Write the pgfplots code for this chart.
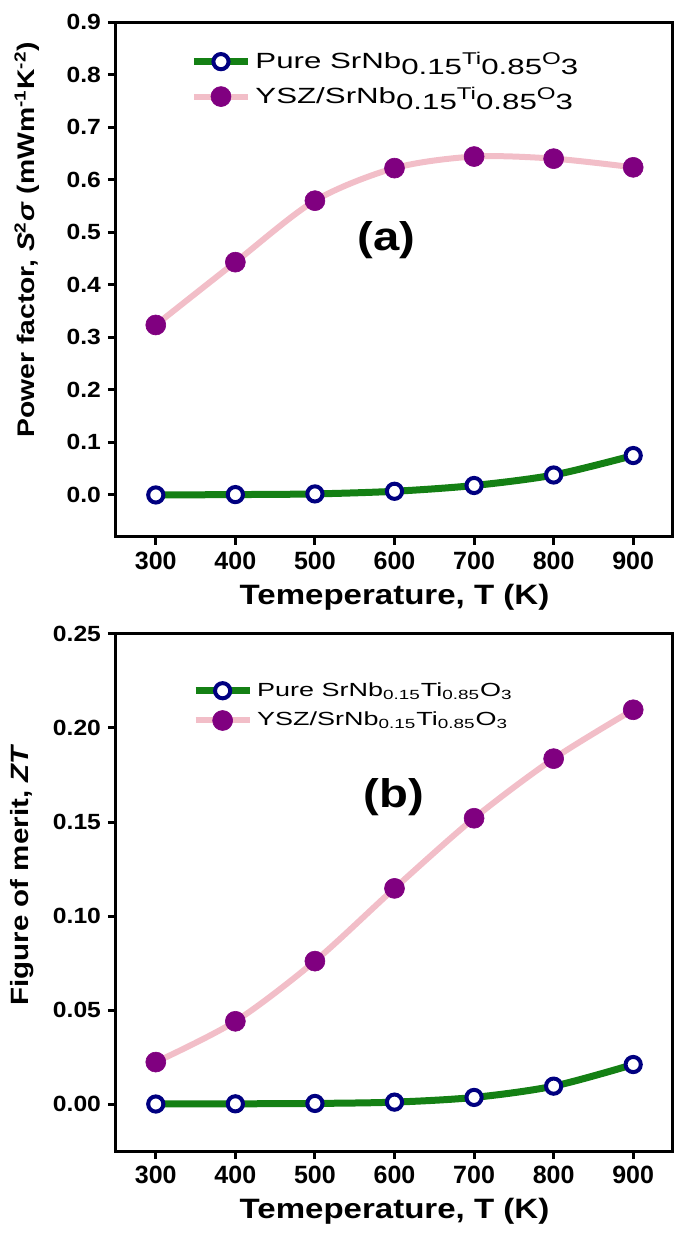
\documentclass[border=0pt]{standalone}
\usepackage{pgfplots}
\pgfplotsset{compat=1.18}
\usepackage{fontspec}
\setmainfont{Liberation Sans}
\newfontfamily\labfont[FakeStretch=1.18]{Liberation Sans}
\newfontfamily\ytfont[FakeStretch=1.12]{Liberation Sans}
\newfontfamily\legAfont[FakeStretch=1.42]{Liberation Sans}
\newfontfamily\legBfont[FakeStretch=1.42]{Liberation Sans}
\definecolor{cgreen}{RGB}{20,128,20}
\definecolor{cpink}{RGB}{242,190,200}
\definecolor{cpurple}{RGB}{128,0,128}
\definecolor{cnavy}{RGB}{0,0,128}
\newcommand{\oddA}{SrNb\raisebox{-0.55ex}{0.15}\raisebox{0.3ex}{\fontsize{8.5}{10}\selectfont Ti}\raisebox{-0.55ex}{0.85}\raisebox{0.3ex}{\fontsize{8.5}{10}\selectfont O}\raisebox{-0.55ex}{3}}
\newcommand{\formB}{SrNb\textsubscript{0.15}Ti\textsubscript{0.85}O\textsubscript{3}}
\pgfplotsset{
 mystyle/.style={
  scale only axis, width=278.5pt,
  xmin=250, xmax=950, xtick={300,400,...,900},
  axis line style={line width=1.5pt},
  every tick/.style={line width=1.5pt, black},
  major tick length=4pt,
  tick align=outside, xtick pos=left, ytick pos=left,
  /pgf/number format/assume math mode=true,
  xticklabel style={font=\bfseries\fontsize{12.5}{14}\selectfont},
  yticklabel style={font=\ytfont\bfseries\fontsize{11}{13}\selectfont},
  xlabel style={font=\labfont\bfseries\fontsize{14}{16}\selectfont, at={(axis description cs:0.5,0)}, anchor=center, yshift=-30pt},
  ylabel style={font=\labfont\bfseries\fontsize{12}{14}\selectfont, anchor=center},
  xlabel={Temeperature, T (K)},
  legend style={draw=none, fill=none, anchor=north west, inner sep=0pt, cells={anchor=west}},
  legend image code/.code={\draw[mark repeat=2,mark phase=2,#1] plot coordinates {(0pt,0pt) (13.5pt,0pt) (27pt,0pt)};},
 },
 purestyle/.style={color=cgreen, line width=3.5pt, smooth, mark=*, mark size=3.8pt, mark options={fill=white, draw=cnavy, line width=2pt, solid}},
 yszstyle/.style={color=cpink, line width=3pt, smooth, mark=*, mark size=5pt, mark options={fill=cpurple, draw=cpurple, line width=0.3pt, solid}},
}
\begin{document}
\begin{tikzpicture}
\useasboundingbox (-58pt,-352pt) rectangle (284.5pt,268.5pt);
\begin{axis}[mystyle, height=257.5pt,
  ymin=-0.08, ymax=0.9, ytick={0,0.1,...,0.9},
  yticklabel style={/pgf/number format/fixed, /pgf/number format/fixed zerofill, /pgf/number format/precision=1},
  ylabel={Power factor, \textit{S}\textsuperscript{2}\textit{σ} (mWm\textsuperscript{-1}K\textsuperscript{-2})},
  ylabel style={at={(axis description cs:-0.16,0.577)}},
  legend style={at={(rel axis cs:0.133,0.95)}, font=\legAfont\fontsize{11}{13}\selectfont, row sep=4pt},
]
\addplot[purestyle] coordinates {(300,0.0) (400,0.0007) (500,0.002) (600,0.007) (700,0.018) (800,0.038) (900,0.075)};
\addlegendentry{Pure \oddA}
\addplot[yszstyle] coordinates {(300,0.3235) (400,0.443) (500,0.560) (600,0.622) (700,0.644) (800,0.640) (900,0.6235)};
\addlegendentry{YSZ/\oddA}
\node[font=\labfont\bfseries\fontsize{20}{22}\selectfont] at (axis cs:590,0.485) {(a)};
\end{axis}
\begin{axis}[mystyle, height=258.5pt, at={(0pt,-307pt)}, anchor=south west,
  ymin=-0.025, ymax=0.25, ytick={0,0.05,...,0.25},
  yticklabel style={/pgf/number format/fixed, /pgf/number format/fixed zerofill, /pgf/number format/precision=2},
  ylabel={Figure of merit, \textit{ZT}},
  ylabel style={at={(axis description cs:-0.169,0.534)}, font=\labfont\bfseries\fontsize{12.5}{14}\selectfont},
  legend style={at={(rel axis cs:0.136,0.915)}, font=\legBfont\fontsize{9.5}{11}\selectfont, row sep=2.5pt},
]
\addplot[purestyle] coordinates {(300,0.0) (400,0.0001) (500,0.0003) (600,0.001) (700,0.0035) (800,0.0095) (900,0.021)};
\addlegendentry{Pure \formB}
\addplot[yszstyle] coordinates {(300,0.0223) (400,0.044) (500,0.076) (600,0.1147) (700,0.152) (800,0.1837) (900,0.2097)};
\addlegendentry{YSZ/\formB}
\node[font=\labfont\bfseries\fontsize{20}{22}\selectfont] at (axis cs:599,0.163) {(b)};
\end{axis}
\end{tikzpicture}
\end{document}
